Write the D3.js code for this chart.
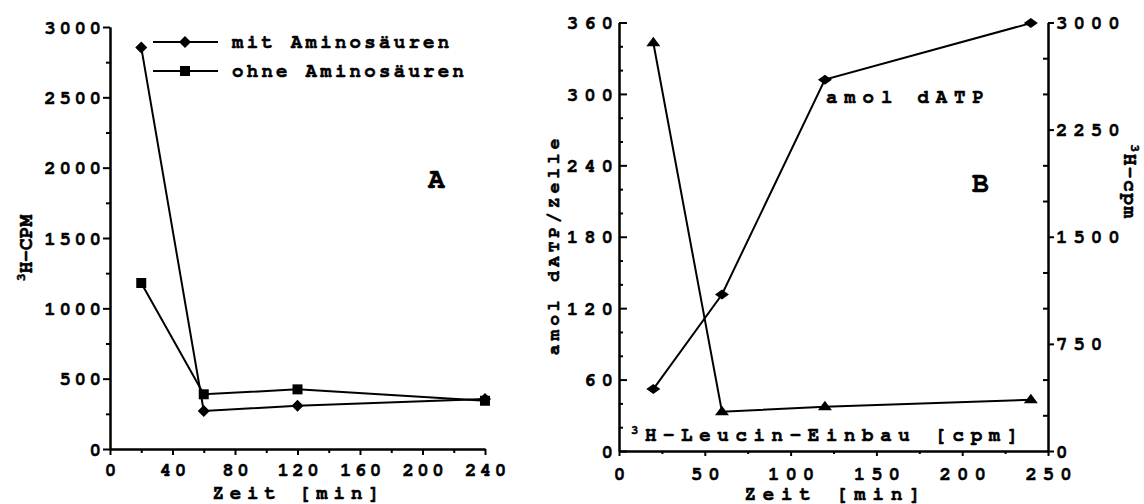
<!DOCTYPE html>
<html>
<head>
<meta charset="utf-8">
<script src="https://cdn.jsdelivr.net/npm/d3@7/dist/d3.min.js"></script>
</head>
<body style="margin:0;padding:0;background:#fff">
<svg id="chart" width="1144" height="504" style="display:block"></svg>
<script>
// Panel A: 3H incorporation with / without amino acids
const timesA = [20, 60, 120, 240];
const mitAminosaeuren = [2855, 270, 308, 355];
const ohneAminosaeuren = [1180, 389, 424, 343];

// Panel B: dATP pool and 3H-leucine incorporation
const timesB = [20, 60, 120, 240];
const amolDATP = [52, 131.5, 312, 359.5];
const leucinEinbau = [2858, 275, 310, 359];

// Tick values
const xTicksA = [0, 40, 80, 120, 160, 200, 240];
const xMinorA = [20, 60, 100, 140, 180, 220];
const yTicksA = [0, 500, 1000, 1500, 2000, 2500, 3000];
const yMinorA = [250, 750, 1250, 1750, 2250, 2750];
const xTicksB = [0, 50, 100, 150, 200, 250];
const xMinorB = [25, 75, 125, 175, 225];
const yTicksBLeft = [0, 60, 120, 180, 240, 300, 360];
const yMinorBLeft = [20, 40, 80, 100, 140, 160, 200, 220, 260, 280, 320, 340];
const yTicksBRight = [0, 750, 1500, 2250, 3000];
const yMinorBRight = [250, 500, 1000, 1250, 1750, 2000, 2500, 2750];

const FONT = 'FreeMono, "Courier New", Courier, monospace';

const svg = d3.select("#chart")
  .style("font-family", FONT)
  .style("font-weight", "bold");

// Scales
const xA = d3.scaleLinear().domain([0, 240]).range([110, 485]);
const yA = d3.scaleLinear().domain([0, 3000]).range([449, 27]);
const xB = d3.scaleLinear().domain([0, 250]).range([619, 1048]);
const yBL = d3.scaleLinear().domain([0, 360]).range([451, 22.5]);
const yBR = d3.scaleLinear().domain([0, 3000]).range([451, 22.5]);

function label(sel, size, ls) {
  return sel.style("font-family", FONT).style("font-weight", "bold")
    .style("font-size", size + "px").style("letter-spacing", ls + "px")
    .attr("fill", "#000").attr("stroke", "#000").attr("stroke-width", 0.55);
}

function styleAxis(g, size, ls) {
  g.attr("font-family", null).attr("font-size", null);
  g.select(".domain").attr("stroke", "#000").attr("stroke-width", 2);
  g.selectAll(".tick line").attr("stroke", "#000").attr("stroke-width", 2);
  label(g.selectAll(".tick text"), size, ls);
}

// ---------- Panel A axes ----------
svg.append("g").attr("transform", "translate(110,0)")
  .call(d3.axisLeft(yA).tickValues(yMinorA).tickSize(4).tickSizeOuter(0).tickFormat(""))
  .call(g => styleAxis(g, 19, 3.5));
svg.append("g").attr("transform", "translate(110,0)")
  .call(d3.axisLeft(yA).tickValues(yTicksA).tickSize(7).tickPadding(2).tickSizeOuter(0).tickFormat(d3.format("d")))
  .call(g => styleAxis(g, 19, 3.7))
  .call(g => g.selectAll(".tick text").attr("dx", 3.7));

svg.append("g").attr("transform", "translate(0,449)")
  .call(d3.axisBottom(xA).tickValues(xMinorA).tickSize(4).tickSizeOuter(0).tickFormat(""))
  .call(g => styleAxis(g, 19, 3.5));
svg.append("g").attr("transform", "translate(0,449)")
  .call(d3.axisBottom(xA).tickValues(xTicksA).tickSize(6).tickPadding(8).tickSizeOuter(0).tickFormat(d3.format("d")))
  .call(g => styleAxis(g, 19, 3.5))
  .call(g => g.selectAll(".tick text").attr("dx", 1.75));

// ---------- Panel B axes ----------
svg.append("g").attr("transform", "translate(619,0)")
  .call(d3.axisLeft(yBL).tickValues(yMinorBLeft).tickSize(-4).tickSizeOuter(0).tickFormat(""))
  .call(g => styleAxis(g, 19, 6));
svg.append("g").attr("transform", "translate(619,0)")
  .call(d3.axisLeft(yBL).tickValues(yTicksBLeft).tickSize(-8).tickPadding(6).tickSizeOuter(0).tickFormat(d3.format("d")))
  .call(g => styleAxis(g, 19, 6))
  .call(g => g.selectAll(".tick text").attr("dx", 6));

svg.append("g").attr("transform", "translate(1048,0)")
  .call(d3.axisRight(yBR).tickValues(yMinorBRight).tickSize(-5).tickSizeOuter(0).tickFormat(""))
  .call(g => styleAxis(g, 19, 6));
svg.append("g").attr("transform", "translate(1048,0)")
  .call(d3.axisRight(yBR).tickValues(yTicksBRight).tickSize(6).tickPadding(2).tickSizeOuter(0).tickFormat(d3.format("d")))
  .call(g => styleAxis(g, 19, 6));

svg.append("g").attr("transform", "translate(0,451)")
  .call(d3.axisBottom(xB).tickValues(xMinorB).tickSize(3).tickSizeOuter(0).tickFormat(""))
  .call(g => styleAxis(g, 19, 6));
svg.append("g").attr("transform", "translate(0,451)")
  .call(d3.axisBottom(xB).tickValues(xTicksB).tickSize(5).tickPadding(11).tickSizeOuter(0).tickFormat(d3.format("d")))
  .call(g => styleAxis(g, 19, 6))
  .call(g => g.selectAll(".tick text").attr("dx", 3));

// ---------- Markers ----------
function diamond(w, h) { return `M0,${-h}L${w},0L0,${h}L${-w},0Z`; }
function square(s) { return `M${-s},${-s}H${s}V${s}H${-s}Z`; }
function triangle(w, up, down) { return `M0,${-up}L${w},${down}L${-w},${down}Z`; }

function series(xs, ys, x, y, shape) {
  const pts = xs.map((t, i) => [x(t), y(ys[i])]);
  svg.append("path")
    .attr("d", d3.line()(pts))
    .attr("fill", "none").attr("stroke", "#000").attr("stroke-width", 2);
  svg.append("g").selectAll("path").data(pts).join("path")
    .attr("transform", d => `translate(${d[0]},${d[1]})`)
    .attr("d", shape).attr("fill", "#000");
}

series(timesA, mitAminosaeuren, xA, yA, diamond(6, 6));
series(timesA, ohneAminosaeuren, xA, yA, square(5));
series(timesB, amolDATP, xB, yBL, diamond(7, 5));
series(timesB, leucinEinbau, xB, yBR, triangle(7, 6, 3.5));

// ---------- Legend, panel A ----------
const legend = [
  { label: "mit Aminosäuren", y: 42, shape: diamond(6, 6) },
  { label: "ohne Aminosäuren", y: 71, shape: square(5) }
];
const lg = svg.append("g").selectAll("g").data(legend).join("g");
lg.append("line").attr("x1", 153).attr("x2", 218)
  .attr("y1", d => d.y).attr("y2", d => d.y)
  .attr("stroke", "#000").attr("stroke-width", 2);
lg.append("path").attr("transform", d => `translate(185,${d.y})`)
  .attr("d", d => d.shape).attr("fill", "#000");
label(lg.append("text"), 19, 3.3).attr("x", 232).attr("y", d => d.y + 6)
  .text(d => d.label);

// ---------- Titles and labels ----------
label(svg.append("text"), 19, 5.9).attr("x", 299).attr("y", 499)
  .attr("text-anchor", "middle").text("Zeit [min]");
label(svg.append("text"), 19, 6.9).attr("x", 836).attr("y", 500)
  .attr("text-anchor", "middle").text("Zeit [min]");

// panel A y title
const tA = label(svg.append("text"), 19.5, 0)
  .attr("transform", "translate(32,248) rotate(-90)").attr("text-anchor", "middle");
tA.append("tspan").style("font-size", "13px").attr("dy", -7).text("3");
tA.append("tspan").attr("dy", 7).text("H-CPM");

label(svg.append("text"), 28, 0).attr("x", 428).attr("y", 188).text("A");
label(svg.append("text"), 28, 0).attr("x", 972).attr("y", 192).text("B");

// panel B left title
label(svg.append("text"), 18, 3.9)
  .attr("transform", "translate(559,245) rotate(-90)")
  .attr("text-anchor", "middle").text("amol dATP/Zelle");

// panel B right title
const tR = label(svg.append("text"), 19.5, 1.5)
  .attr("transform", "translate(1124,182) rotate(90)").attr("text-anchor", "middle");
tR.append("tspan").style("font-size", "13px").attr("dy", -7).text("3");
tR.append("tspan").attr("dy", 7).text("H-cpm");

label(svg.append("text"), 19, 6.9).attr("x", 826).attr("y", 103).text("amol dATP");

const tL = label(svg.append("text"), 19, 6.7).attr("x", 631).attr("y", 441);
tL.append("tspan").style("font-size", "12px").attr("dy", -7).text("3");
tL.append("tspan").attr("dy", 7).text("H-Leucin-Einbau [cpm]");
</script>
</body>
</html>
